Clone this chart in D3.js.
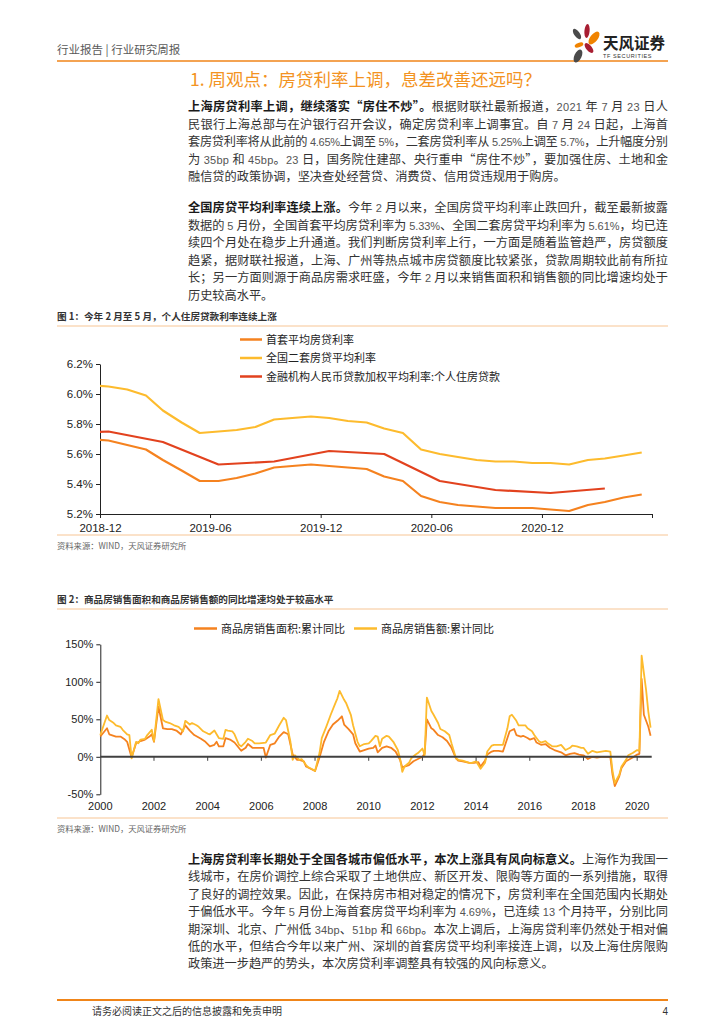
<!DOCTYPE html>
<html>
<head>
<meta charset="utf-8">
<script src="https://cdn.jsdelivr.net/npm/d3@7"></script>
<style>
  body { margin: 0; background: #fff; }
  #page { width: 724px; height: 1024px; overflow: hidden; }
</style>
</head>
<body>
<div id="page"></div>
<script>
// ---- text content ----
const headerText = "行业报告 | 行业研究周报"
const titleText = "1. 周观点：房贷利率上调，息差改善还远吗？"

const para1Lead = "上海房贷利率上调，继续落实“房住不炒”。"
const para1Lines = [
  "根据财联社最新报道，2021 年 7 月 23 日人",
  "民银行上海总部与在沪银行召开会议，确定房贷利率上调事宜。自 7 月 24 日起，上海首",
  "套房贷利率将从此前的 4.65%上调至 5%，二套房贷利率从 5.25%上调至 5.7%，上升幅度分别",
  "为 35bp 和 45bp。23 日，国务院住建部、央行重申“房住不炒”，要加强住房、土地和金",
  "融信贷的政策协调，坚决查处经营贷、消费贷、信用贷违规用于购房。"
]
const para2Lead = "全国房贷平均利率连续上涨。"
const para2Lines = [
  "今年 2 月以来，全国房贷平均利率止跌回升，截至最新披露",
  "数据的 5 月份，全国首套平均房贷利率为 5.33%、全国二套房贷平均利率为 5.61%，均已连",
  "续四个月处在稳步上升通道。我们判断房贷利率上行，一方面是随着监管趋严，房贷额度",
  "趋紧，据财联社报道，上海、广州等热点城市房贷额度比较紧张，贷款周期较此前有所拉",
  "长；另一方面则源于商品房需求旺盛，今年 2 月以来销售面积和销售额的同比增速均处于",
  "历史较高水平。"
]
const para3Lead = "上海房贷利率长期处于全国各城市偏低水平，本次上涨具有风向标意义。"
const para3Lines = [
  "上海作为我国一",
  "线城市，在房价调控上综合采取了土地供应、新区开发、限购等方面的一系列措施，取得",
  "了良好的调控效果。因此，在保持房市相对稳定的情况下，房贷利率在全国范围内长期处",
  "于偏低水平。今年 5 月份上海首套房贷平均利率为 4.69%，已连续 13 个月持平，分别比同",
  "期深圳、北京、广州低 34bp、51bp 和 66bp。本次上调后，上海房贷利率仍然处于相对偏",
  "低的水平，但结合今年以来广州、深圳的首套房贷平均利率接连上调，以及上海住房限购",
  "政策进一步趋严的势头，本次房贷利率调整具有较强的风向标意义。"
]

const fig1Title = "图 1：今年 2 月至 5 月，个人住房贷款利率连续上涨"
const fig2Title = "图 2：商品房销售面积和商品房销售额的同比增速均处于较高水平"
const sourceText = "资料来源：WIND，天风证券研究所"
const footerText = "请务必阅读正文之后的信息披露和免责申明"

// ---- chart 1 data (monthly, from 2018-11) ----
const rateStart = "2018-11"
const firstHomeRate = [5.70, 5.69, 5.66, 5.63, 5.56, 5.49, 5.42, 5.42, 5.44, 5.47, 5.51,
  5.52, 5.53, 5.52, 5.51, 5.50, 5.45, 5.42, 5.32, 5.28, 5.26, 5.25, 5.24, 5.24, 5.24,
  5.23, 5.22, 5.26, 5.28, 5.31, 5.33]
const secondHomeRate = [6.06, 6.05, 6.03, 5.99, 5.89, 5.81, 5.74, 5.75, 5.76, 5.78, 5.83,
  5.84, 5.85, 5.84, 5.82, 5.81, 5.77, 5.74, 5.63, 5.60, 5.58, 5.56, 5.55, 5.55, 5.54,
  5.54, 5.53, 5.56, 5.57, 5.59, 5.61]
// quarterly
const weightedQuarters = ["2018-09", "2018-12", "2019-03", "2019-06", "2019-09", "2019-12",
  "2020-03", "2020-06", "2020-09", "2020-12", "2021-03"]
const weightedRate = [5.73, 5.75, 5.68, 5.53, 5.55, 5.62, 5.60, 5.42, 5.36, 5.34, 5.37]

const rateSeriesNames = ["首套平均房贷利率", "全国二套房贷平均利率", "金融机构人民币贷款加权平均利率:个人住房贷款"]
const rateXTicks = ["2018-12", "2019-06", "2019-12", "2020-06", "2020-12"]
const rateYTicks = [5.2, 5.4, 5.6, 5.8, 6.0, 6.2]

// ---- chart 2 data: months counted from the "2000" label ----
const areaMonths = [0, 3, 4, 7, 9, 11, 12, 14, 16, 18, 20, 22, 23, 24, 26, 28, 30, 32, 34, 36,
  38, 40, 42, 45, 47, 49, 51, 52, 53, 55, 56, 58, 60, 63, 65, 66, 68, 71, 73, 74, 76, 78, 80,
  82, 84, 86, 88, 89, 91, 92, 94, 96, 98, 100, 102, 104, 106, 108, 109, 111, 113, 114, 116,
  118, 120, 122, 123, 124, 126, 128, 130, 132, 134, 135, 136, 138, 140, 142, 144, 145, 146,
  148, 149, 151, 153, 155, 157, 159, 160, 162, 165, 167, 169, 170, 172, 173, 175, 176, 178,
  180, 182, 183, 185, 186, 188, 189, 191, 192, 194, 195, 197, 199, 201, 203, 204, 206, 208,
  210, 212, 214, 216, 218, 220, 222, 224, 226, 228, 229, 230, 232, 233, 235, 238, 240, 241,
  242, 243, 245, 246]
const areaYoY = [27, 38, 30, 27, 27, 23, 20, -1, 18, 21, 23, 27, 30, 20, 67, 38, 37, 37, 35, 30,
  42, 35, 29, 24, 20, 14, 16, 20, 14, 14, 25, 23, 19, 8, 12, 17, 12, 12, 12, -1, 16, 18, 27,
  33, 30, 3, -4, -4, -6, -13, -16, -19, -1, 20, 34, 43, 48, 54, 43, 37, 30, 18, 7,
  9, 11, 12, 15, 6, 12, 14, 12, 7, -4, -14, -13, -11, -6, -3, 0, 4, 50,
  38, 36, 29, 26, 21, 12, -2, -5, -6, -8, -8, -7, -13, -5, 3, 7, 8, 8,
  7, 25, 34, 37, 29, 27, 28, 25, 23, 25, 19, 16, 17, 12, 9, 8, 6, 2,
  4, 5, 3, 2, -3, 0, -1, 0, 0, 0, -24, -39, -26, -15, -6, -1, 3, 4,
  104, 56, 40, 28]
const amountMonths = [0, 3, 4, 6, 7, 9, 10, 12, 13, 14, 16, 17, 18, 20, 21, 23, 24, 26, 28, 29,
  31, 33, 35, 37, 38, 40, 41, 43, 44, 46, 48, 49, 51, 52, 53, 55, 56, 57, 59, 60, 62, 63, 65,
  66, 68, 69, 71, 74, 76, 78, 80, 82, 83, 85, 86, 87, 89, 90, 92, 93, 95, 96, 98, 99, 101,
  103, 105, 106, 107, 109, 110, 112, 113, 115, 116, 118, 120, 121, 123, 124, 125, 126, 128,
  129, 131, 133, 134, 135, 136, 138, 139, 141, 142, 144, 145, 146, 148, 149, 151, 152, 154,
  156, 157, 159, 160, 162, 165, 166, 168, 170, 172, 173, 175, 176, 178, 180, 182, 183, 184,
  186, 187, 189, 190, 191, 193, 194, 196, 197, 199, 200, 202, 204, 205, 206, 208, 210, 211,
  213, 215, 216, 218, 220, 222, 224, 226, 228, 229, 230, 232, 233, 235, 236, 238, 240, 241,
  242, 244, 245, 246]
const amountYoY = [29, 55, 49, 45, 42, 40, 36, 30, 29, -2, 20, 18, 23, 24, 29, 36, 21, 77, 49, 47,
  45, 42, 40, 34, 48, 43, 45, 42, 40, 34, 31, 30, 35, 30, 25, 24, 36, 35, 34, 30, 16, 14, 20,
  24, 21, 18, 18, 19, 29, 31, 42, 52, 49, 20, -4, 2, -4, -3, -11, -14, -17, -19, 5, 25, 40,
  56, 71, 78, 88, 76, 71, 56, 42, 20, 14, 17, 18, 21, 28, 27, 14, 24, 28,
  27, 20, 9, -2, -20, -13, -8, -2, 3, 5, 11, 2, 79, 61, 56, 45, 37, 34,
  29, 18, -2, -4, -5, -8, -8, -6, -16, -8, 7, 15, 16, 16, 16, 38, 54, 56,
  48, 42, 42, 42, 38, 34, 29, 21, 19, 21, 18, 14, 14, 15, 16, 9, 12, 15,
  14, 12, 12, 4, 8, 6, 7, 8, 7, -19, -35, -24, -13, -4, 2, 5, 9, 8,
  135, 89, 60, 39]
const salesSeriesNames = ["商品房销售面积:累计同比", "商品房销售额:累计同比"]
const salesXTicks = ["2000", "2002", "2004", "2006", "2008", "2010", "2012", "2014", "2016", "2018", "2020"]
const salesYTicks = [-50, 0, 50, 100, 150]

// ---- page ----
const CJK = '"Noto Sans CJK SC", "Noto Sans", sans-serif'
const LAT = '"Liberation Sans", Arial, sans-serif'
const ORANGE = "#F5821F", YELLOW = "#FDBB2D", RED = "#E2421E"
const RULE = "#F08519", SOFT_RULE = "#F7C594"

const svg = d3.select("#page").append("svg")
  .attr("width", 724).attr("height", 1024)
  .style("font-family", CJK)

// header
svg.append("text").attr("x", 57).attr("y", 54)
  .attr("font-size", 11.5).attr("fill", "#595959").text(headerText)
svg.append("line").attr("x1", 57).attr("x2", 668).attr("y1", 61).attr("y2", 61)
  .attr("stroke", RULE).attr("stroke-width", 1.6)

// logo petals
const petals = [
  {cx: 577, cy: 34, rx: 2.8, ry: 6, r: -35, c: "#4a4a4a"},
  {cx: 587, cy: 31, rx: 2.6, ry: 7, r: 5, c: "#A81E32"},
  {cx: 594, cy: 38, rx: 3.8, ry: 7.5, r: 38, c: "#F08300"},
  {cx: 579, cy: 45, rx: 2.2, ry: 4.5, r: 70, c: "#F08300"},
  {cx: 589, cy: 48, rx: 2.8, ry: 6, r: -40, c: "#A81E32"},
  {cx: 578, cy: 56, rx: 3.6, ry: 7, r: 25, c: "#4a4a4a"}
]
const logo = svg.append("g")
logo.selectAll("ellipse").data(petals).join("ellipse")
  .attr("cx", d => d.cx).attr("cy", d => d.cy).attr("rx", d => d.rx).attr("ry", d => d.ry)
  .attr("transform", d => `rotate(${d.r},${d.cx},${d.cy})`).attr("fill", d => d.c)
logo.append("text").attr("x", 603).attr("y", 49).attr("font-size", 15.5).attr("font-weight", 700)
  .attr("fill", "#222").text("天风证券")
logo.append("text").attr("x", 603).attr("y", 58).attr("font-size", 5.5).attr("font-family", LAT)
  .attr("letter-spacing", 0.6).attr("fill", "#333").text("TF SECURITIES")

// section title
svg.append("text").attr("x", 190).attr("y", 86).attr("font-size", 17.5)
  .attr("fill", "#F39322").text(titleText)

// paragraphs: each line justified to 480px except the last
function paragraph(lead, lines, y0, lh) {
  lines.forEach((line, i) => {
    const t = svg.append("text").attr("x", 188).attr("y", y0 + i * lh)
      .attr("font-size", 12.2).attr("fill", "#333")
    if (i < lines.length - 1) t.attr("textLength", 480).attr("lengthAdjust", "spacing")
    if (i === 0 && lead) t.append("tspan").attr("font-weight", 700).attr("fill", "#1a1a1a").text(lead)
    const parts = line.split(/([\x20-\x7E]+)/)
    parts.forEach(p => {
      if (!p) return
      const s = t.append("tspan").text(p)
      if (/^[\x20-\x7E]+$/.test(p)) s.attr("font-family", LAT).attr("font-size", 11).attr("fill", "#555")
    })
  })
}
paragraph(para1Lead, para1Lines, 111, 17.6)
paragraph(para2Lead, para2Lines, 212, 17.6)
paragraph(para3Lead, para3Lines, 864, 17.4)

// figure frames
function figFrame(title, yTitle, yTop, yBottom, ySource) {
  svg.append("text").attr("x", 57).attr("y", yTitle).attr("font-size", 9.6)
    .attr("font-weight", 700).attr("fill", "#333").text(title)
  ;[yTop, yBottom].forEach(y => svg.append("line").attr("x1", 57).attr("x2", 668)
    .attr("y1", y).attr("y2", y).attr("stroke", SOFT_RULE).attr("stroke-width", 1))
  svg.append("text").attr("x", 57).attr("y", ySource).attr("font-size", 8.3)
    .attr("fill", "#666").text(sourceText)
}
figFrame(fig1Title, 320, 326, 535, 549)
figFrame(fig2Title, 603, 609, 818, 832)

function styleAxis(g, size) {
  g.select(".domain").attr("stroke", "#222")
  g.selectAll(".tick line").attr("stroke", "#222")
  g.selectAll(".tick text").attr("font-family", LAT).attr("font-size", size).attr("fill", "#222")
}

// ---- chart 1 ----
const parseMonth = d3.timeParse("%Y-%m")
const mid = s => d3.timeDay.offset(parseMonth(s), 14)
const rateMonths = firstHomeRate.map((d, i) => d3.timeMonth.offset(parseMonth(rateStart), i))
const x1 = d3.scaleTime().domain([parseMonth("2018-12"), parseMonth("2021-06")]).range([100, 652])
const y1 = d3.scaleLinear().domain([5.2, 6.2]).range([514, 364])

svg.append("clipPath").attr("id", "clip1").append("rect")
  .attr("x", 100).attr("y", 350).attr("width", 552).attr("height", 170)

const g1 = svg.append("g")
const xAxis1 = g1.append("g").attr("transform", `translate(0,${y1(5.2)})`)
  .call(d3.axisBottom(x1).tickValues(rateXTicks.map(parseMonth).concat([parseMonth("2021-06")]))
    .tickFormat((d, i) => rateXTicks[i] || "").tickSize(4).tickSizeOuter(0))
styleAxis(xAxis1, 11.5)
xAxis1.selectAll(".tick text").attr("dy", "0.95em")
const yAxis1 = g1.append("g").attr("transform", `translate(${x1.range()[0]},0)`)
  .call(d3.axisLeft(y1).tickValues(rateYTicks).tickFormat(d => d.toFixed(1) + "%").tickSize(4).tickSizeOuter(0))
styleAxis(yAxis1, 11.5)

const line1 = d3.line().x(d => x1(d[0])).y(d => y1(d[1]))
const rateSeries = [
  {c: ORANGE, pts: firstHomeRate.map((v, i) => [d3.timeDay.offset(rateMonths[i], 14), v])},
  {c: YELLOW, pts: secondHomeRate.map((v, i) => [d3.timeDay.offset(rateMonths[i], 14), v])},
  {c: RED, pts: weightedRate.map((v, i) => [mid(weightedQuarters[i]), v])}
]
g1.append("g").attr("clip-path", "url(#clip1)").selectAll("path").data(rateSeries).join("path")
  .attr("d", d => line1(d.pts)).attr("fill", "none").attr("stroke", d => d.c)
  .attr("stroke-width", 2.2).attr("stroke-linejoin", "round")

const legend1 = g1.append("g").selectAll("g").data(rateSeriesNames).join("g")
  .attr("transform", (d, i) => `translate(240,${339.5 + i * 18.5})`)
legend1.append("line").attr("x1", 0).attr("x2", 22).attr("stroke", (d, i) => rateSeries[i].c).attr("stroke-width", 2.5)
legend1.append("text").attr("x", 26).attr("y", 4).attr("font-size", 11).attr("fill", "#222").text(d => d)

// ---- chart 2 ----
const x2 = d3.scaleLinear().domain([0, 246.5]).range([100.3, 651.7])
const y2 = d3.scaleLinear().domain([-50, 150]).range([794.3, 644.3])
const g2 = svg.append("g")
const yAxis2 = g2.append("g").attr("transform", `translate(${x2.range()[0]},0)`)
  .call(d3.axisLeft(y2).tickValues(salesYTicks).tickFormat(d => d + "%").tickSize(4).tickSizeOuter(0))
styleAxis(yAxis2, 11)

const line2 = d3.line().x(d => x2(d[0])).y(d => y2(d[1]))
const salesSeries = [
  {c: ORANGE, pts: areaMonths.map((m, i) => [m, areaYoY[i]])},
  {c: YELLOW, pts: amountMonths.map((m, i) => [m, amountYoY[i]])}
]
g2.append("g").selectAll("path").data(salesSeries).join("path")
  .attr("d", d => line2(d.pts)).attr("fill", "none").attr("stroke", d => d.c)
  .attr("stroke-width", 1.8).attr("stroke-linejoin", "round")

// zero line with year ticks
g2.append("line").attr("x1", x2.range()[0]).attr("x2", x2.range()[1])
  .attr("y1", y2(0)).attr("y2", y2(0)).attr("stroke", "#404040").attr("stroke-width", 2)
const yearTicks = salesXTicks.map((d, i) => i * 24)
g2.selectAll(".ytick").data(yearTicks.slice(1)).join("line")
  .attr("x1", d => x2(d)).attr("x2", d => x2(d)).attr("y1", y2(0)).attr("y2", y2(0) + 4)
  .attr("stroke", "#404040")
g2.selectAll(".ylab").data(salesXTicks).join("text")
  .attr("x", (d, i) => x2(yearTicks[i])).attr("y", 810).attr("text-anchor", "middle")
  .attr("font-family", LAT).attr("font-size", 11).attr("fill", "#222").text(d => d)

const legend2 = g2.append("g").selectAll("g").data(salesSeriesNames).join("g")
  .attr("transform", (d, i) => `translate(${[194, 354][i]},628.5)`)
legend2.append("line").attr("x1", 0).attr("x2", 23).attr("stroke", (d, i) => salesSeries[i].c).attr("stroke-width", 2.5)
legend2.append("text").attr("x", 27).attr("y", 4).attr("font-size", 11).attr("fill", "#222").text(d => d)

// footer
svg.append("line").attr("x1", 57).attr("x2", 668).attr("y1", 1000).attr("y2", 1000)
  .attr("stroke", RULE).attr("stroke-width", 2)
svg.append("text").attr("x", 92).attr("y", 1015).attr("font-size", 10).attr("fill", "#333").text(footerText)
svg.append("text").attr("x", 668).attr("y", 1015).attr("text-anchor", "end").attr("font-family", LAT)
  .attr("font-size", 10).attr("fill", "#333").text("4")
</script>
</body>
</html>
